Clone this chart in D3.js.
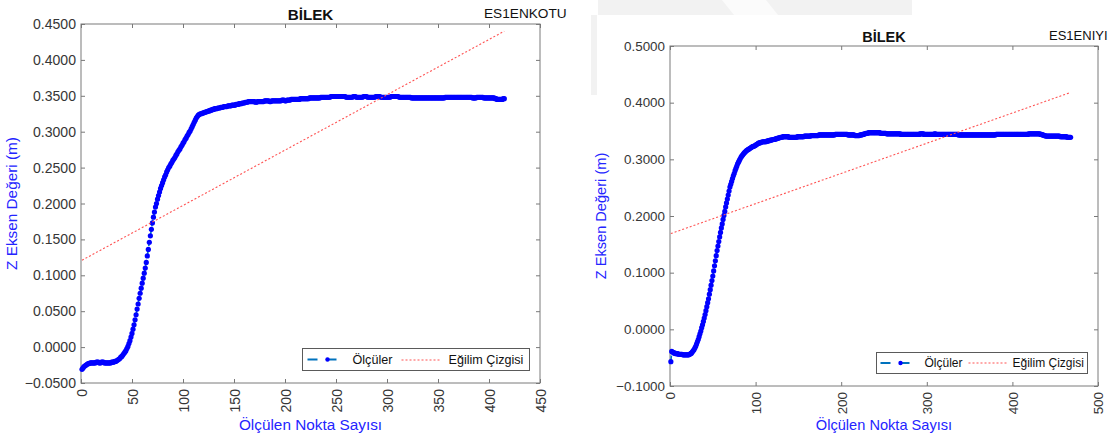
<!DOCTYPE html>
<html>
<head>
<meta charset="utf-8">
<script src="https://cdn.jsdelivr.net/npm/d3@7"></script>
<style>
  body { margin: 0; background: #fff; }
  svg { display: block; }
  text { font-family: "Liberation Sans", Arial, Helvetica, sans-serif; }
</style>
</head>
<body>
<svg id="chart" width="1113" height="437"></svg>
<script>
// ---- Tick values -------------------------------------------------------
const leftXTicks = [0, 50, 100, 150, 200, 250, 300, 350, 400, 450];
const leftYTicks = [-0.05, 0, 0.05, 0.1, 0.15, 0.2, 0.25, 0.3, 0.35, 0.4, 0.45];
const rightXTicks = [0, 100, 200, 300, 400, 500];
const rightYTicks = [-0.1, 0, 0.1, 0.2, 0.3, 0.4, 0.5];

// ---- Labels ------------------------------------------------------------
const titleText = "BİLEK";
const leftTag = "ES1ENKOTU";
const rightTag = "ES1ENIYI";
const xLabel = "Ölçülen Nokta Sayısı";
const yLabel = "Z Eksen Değeri (m)";
const seriesNames = ["Ölçüler", "Eğilim Çizgisi"];

// ---- Measured Z values, one per point (point n is plotted at x = n) ----
const leftZ = [
  -0.031,-0.029,-0.027,-0.026,-0.025,-0.024,-0.023,-0.023,-0.022,-0.022,
  -0.022,-0.022,-0.022,-0.022,-0.021,-0.021,-0.021,-0.022,-0.022,-0.021,
  -0.021,-0.021,-0.022,-0.022,-0.022,-0.022,-0.022,-0.022,-0.022,-0.021,
  -0.021,-0.021,-0.020,-0.020,-0.019,-0.018,-0.017,-0.016,-0.014,-0.013,
  -0.011,-0.009,-0.007,-0.005,-0.002,0.001,0.005,0.009,0.014,0.019,
  0.025,0.031,0.038,0.045,0.053,0.060,0.068,0.075,0.082,0.089,
  0.096,0.103,0.110,0.118,0.127,0.136,0.146,0.155,0.164,0.173,
  0.181,0.188,0.195,0.200,0.206,0.211,0.216,0.221,0.225,0.229,
  0.233,0.237,0.240,0.244,0.247,0.250,0.252,0.255,0.257,0.260,
  0.262,0.264,0.267,0.269,0.272,0.274,0.276,0.279,0.281,0.284,
  0.286,0.289,0.291,0.294,0.296,0.299,0.301,0.304,0.307,0.310,
  0.313,0.316,0.319,0.321,0.323,0.324,0.325,0.325,0.326,0.326,
  0.327,0.327,0.328,0.328,0.329,0.329,0.330,0.330,0.331,0.331,
  0.332,0.332,0.332,0.333,0.333,0.333,0.334,0.334,0.334,0.335,
  0.335,0.335,0.335,0.336,0.336,0.336,0.336,0.337,0.337,0.337,
  0.337,0.338,0.338,0.338,0.339,0.339,0.339,0.340,0.340,0.340,
  0.341,0.341,0.341,0.342,0.342,0.342,0.342,0.342,0.342,0.342,
  0.341,0.341,0.342,0.342,0.342,0.342,0.342,0.342,0.342,0.343,
  0.343,0.343,0.343,0.343,0.342,0.342,0.343,0.343,0.343,0.343,
  0.343,0.343,0.343,0.343,0.343,0.343,0.344,0.344,0.344,0.343,
  0.343,0.344,0.344,0.344,0.344,0.345,0.345,0.345,0.345,0.345,
  0.345,0.345,0.345,0.345,0.346,0.346,0.346,0.346,0.346,0.346,
  0.346,0.346,0.346,0.347,0.347,0.347,0.347,0.347,0.347,0.347,
  0.347,0.347,0.347,0.347,0.348,0.348,0.348,0.348,0.348,0.348,
  0.348,0.348,0.348,0.348,0.349,0.349,0.349,0.349,0.349,0.349,
  0.349,0.349,0.349,0.349,0.349,0.349,0.349,0.349,0.349,0.348,
  0.348,0.348,0.348,0.348,0.348,0.348,0.349,0.349,0.349,0.348,
  0.348,0.348,0.348,0.348,0.348,0.348,0.349,0.349,0.349,0.349,
  0.348,0.348,0.348,0.348,0.348,0.348,0.348,0.348,0.349,0.349,
  0.349,0.349,0.349,0.348,0.348,0.348,0.348,0.348,0.348,0.348,
  0.348,0.348,0.348,0.349,0.349,0.349,0.349,0.349,0.349,0.349,
  0.349,0.348,0.348,0.348,0.348,0.348,0.348,0.348,0.348,0.348,
  0.348,0.348,0.348,0.347,0.347,0.347,0.347,0.347,0.347,0.347,
  0.347,0.347,0.347,0.347,0.347,0.347,0.347,0.347,0.347,0.347,
  0.347,0.347,0.347,0.347,0.347,0.347,0.347,0.347,0.347,0.347,
  0.347,0.347,0.347,0.347,0.347,0.347,0.348,0.348,0.348,0.348,
  0.348,0.348,0.348,0.348,0.348,0.348,0.348,0.348,0.348,0.348,
  0.348,0.348,0.348,0.348,0.348,0.348,0.348,0.348,0.348,0.348,
  0.348,0.348,0.348,0.347,0.347,0.347,0.347,0.348,0.348,0.348,
  0.348,0.348,0.348,0.348,0.347,0.347,0.347,0.347,0.347,0.347,
  0.347,0.347,0.347,0.347,0.347,0.346,0.346,0.345,0.345,0.345,
  0.345,0.345,0.345,0.346,0.346
];

const rightZ = [
  -0.057,-0.039,-0.040,-0.041,-0.042,-0.042,-0.043,-0.043,-0.043,-0.044,
  -0.044,-0.044,-0.044,-0.044,-0.045,-0.045,-0.045,-0.045,-0.045,-0.045,
  -0.045,-0.045,-0.044,-0.043,-0.042,-0.040,-0.038,-0.036,-0.033,-0.030,
  -0.026,-0.022,-0.018,-0.013,-0.008,-0.003,0.003,0.008,0.014,0.020,
  0.026,0.033,0.040,0.047,0.054,0.062,0.070,0.078,0.086,0.094,
  0.103,0.112,0.121,0.130,0.139,0.147,0.155,0.163,0.171,0.179,
  0.186,0.194,0.201,0.208,0.216,0.223,0.230,0.237,0.244,0.251,
  0.256,0.261,0.266,0.271,0.275,0.280,0.284,0.288,0.292,0.295,
  0.298,0.301,0.304,0.306,0.308,0.310,0.312,0.313,0.315,0.316,
  0.317,0.318,0.319,0.320,0.321,0.322,0.323,0.323,0.324,0.325,
  0.326,0.327,0.328,0.329,0.329,0.330,0.330,0.331,0.331,0.331,
  0.331,0.331,0.332,0.332,0.333,0.333,0.334,0.334,0.334,0.335,
  0.335,0.335,0.336,0.336,0.337,0.337,0.338,0.338,0.339,0.339,
  0.339,0.340,0.340,0.340,0.340,0.340,0.340,0.340,0.339,0.339,
  0.339,0.339,0.339,0.339,0.339,0.339,0.339,0.339,0.340,0.340,
  0.340,0.340,0.340,0.340,0.340,0.340,0.341,0.341,0.341,0.341,
  0.341,0.341,0.341,0.341,0.342,0.342,0.342,0.342,0.342,0.342,
  0.342,0.342,0.342,0.343,0.343,0.343,0.343,0.343,0.343,0.343,
  0.343,0.343,0.343,0.343,0.343,0.343,0.343,0.343,0.343,0.343,
  0.343,0.343,0.344,0.344,0.344,0.344,0.344,0.344,0.344,0.344,
  0.344,0.344,0.344,0.344,0.344,0.344,0.344,0.343,0.343,0.343,
  0.343,0.343,0.343,0.343,0.343,0.342,0.342,0.342,0.342,0.342,
  0.342,0.343,0.343,0.343,0.344,0.344,0.345,0.345,0.346,0.346,
  0.346,0.347,0.347,0.347,0.347,0.347,0.347,0.347,0.347,0.347,
  0.347,0.347,0.347,0.347,0.347,0.346,0.346,0.346,0.346,0.346,
  0.346,0.346,0.345,0.345,0.345,0.345,0.345,0.345,0.345,0.345,
  0.345,0.345,0.345,0.345,0.345,0.345,0.345,0.345,0.345,0.344,
  0.344,0.344,0.344,0.344,0.344,0.344,0.344,0.344,0.344,0.344,
  0.344,0.344,0.344,0.344,0.344,0.344,0.344,0.344,0.344,0.344,
  0.344,0.345,0.345,0.345,0.345,0.345,0.344,0.344,0.344,0.344,
  0.344,0.344,0.344,0.344,0.344,0.344,0.344,0.344,0.345,0.345,
  0.344,0.344,0.344,0.344,0.344,0.344,0.344,0.344,0.344,0.344,
  0.344,0.344,0.344,0.344,0.344,0.344,0.344,0.344,0.344,0.344,
  0.344,0.344,0.344,0.344,0.344,0.344,0.343,0.343,0.343,0.343,
  0.343,0.343,0.343,0.343,0.343,0.343,0.343,0.343,0.343,0.343,
  0.343,0.343,0.343,0.343,0.343,0.343,0.343,0.343,0.343,0.343,
  0.343,0.343,0.343,0.343,0.343,0.343,0.343,0.343,0.343,0.343,
  0.343,0.343,0.343,0.343,0.343,0.343,0.343,0.343,0.343,0.343,
  0.344,0.344,0.344,0.344,0.344,0.344,0.344,0.344,0.344,0.344,
  0.344,0.344,0.344,0.344,0.344,0.344,0.344,0.344,0.344,0.344,
  0.344,0.344,0.344,0.344,0.344,0.344,0.344,0.344,0.344,0.344,
  0.344,0.344,0.344,0.344,0.344,0.344,0.344,0.344,0.345,0.345,
  0.345,0.345,0.345,0.345,0.345,0.345,0.345,0.345,0.345,0.345,
  0.345,0.345,0.344,0.344,0.343,0.343,0.342,0.342,0.341,0.341,
  0.341,0.341,0.341,0.341,0.341,0.341,0.341,0.341,0.341,0.341,
  0.341,0.341,0.341,0.341,0.341,0.340,0.340,0.340,0.340,0.340,
  0.340,0.340,0.340,0.339,0.339,0.339,0.339,0.339
];

// ---- Trend (linear fit) end points --------------------------------------
const leftTrendX = [1, 415];
const leftTrendZ = [0.121, 0.440];
const rightTrendX = [1, 468];
const rightTrendZ = [0.169, 0.418];

// ---------------------------------------------------------------------------
const svg = d3.select("#chart");
const FONT = '"Liberation Sans", Arial, Helvetica, sans-serif';
const BLUE_TEXT = "#2424ff";
const AXIS_GRAY = "#7a7a7a";
const TICK_TEXT = "#363636";
const TREND_RED = "#ff5252";

// faint page watermark behind the figures
const wm = svg.append("g").attr("fill", "#f2f2f2");
wm.append("path").attr("d", "M598,0 L912,0 L912,15 L598,15 Z");
wm.append("path").attr("d", "M722,0 L766,0 L778,15 L734,15 Z").attr("fill", "#fbfbfb");
wm.append("rect").attr("x", 591).attr("y", 15).attr("width", 6).attr("height", 80);

function drawPanel(cfg) {
  const s = cfg.fontScale;
  const x = d3.scaleLinear().domain(cfg.xDomain).range([cfg.left, cfg.right]);
  const y = d3.scaleLinear().domain(cfg.yDomain).range([cfg.bottom, cfg.top]);
  const g = svg.append("g");
  const fmt = d3.format(".4f");

  // axes: inward ticks on all four sides
  const ax = (gen, tx, ty) => {
    const a = g.append("g").attr("transform", `translate(${tx},${ty})`).call(gen);
    a.select(".domain").remove();
    a.selectAll(".tick line").attr("stroke", "#555").attr("stroke-width", 0.8);
    a.attr("font-family", FONT).attr("font-size", 13.4 * s);
    a.selectAll("text").attr("fill", TICK_TEXT);
    return a;
  };
  ax(d3.axisLeft(y).tickValues(cfg.yTicks).tickFormat(fmt).tickSizeInner(-4).tickSizeOuter(0).tickPadding(5), cfg.left, 0);
  ax(d3.axisRight(y).tickValues(cfg.yTicks).tickFormat("").tickSizeInner(-4).tickSizeOuter(0), cfg.right, 0);
  ax(d3.axisTop(x).tickValues(cfg.xTicks).tickFormat("").tickSizeInner(-4).tickSizeOuter(0), 0, cfg.top);
  const bx = ax(d3.axisBottom(x).tickValues(cfg.xTicks).tickFormat(d3.format("d")).tickSizeInner(-4).tickSizeOuter(0), 0, cfg.bottom);
  bx.selectAll("text")
    .attr("x", -6).attr("y", 0).attr("dy", "0.36em")
    .attr("transform", "rotate(-90)")
    .style("text-anchor", "end");

  // frame
  g.append("rect")
    .attr("x", cfg.left).attr("y", cfg.top)
    .attr("width", cfg.right - cfg.left).attr("height", cfg.bottom - cfg.top)
    .attr("fill", "none").attr("stroke", AXIS_GRAY).attr("stroke-width", 1);

  // measured series: dashed line with dot markers
  const pts = cfg.z.map((v, i) => [i + 1, v]);
  g.append("path")
    .datum(pts)
    .attr("d", d3.line().x(d => x(d[0])).y(d => y(d[1])))
    .attr("fill", "none").attr("stroke", "#0072bd")
    .attr("stroke-width", 1.6).attr("stroke-dasharray", "6,4");
  g.append("g").selectAll("circle")
    .data(pts).join("circle")
    .attr("cx", d => x(d[0])).attr("cy", d => y(d[1]))
    .attr("r", 2.6).attr("fill", "#0000ff");

  // trend line
  g.append("path")
    .datum(cfg.trendX.map((v, i) => [v, cfg.trendZ[i]]))
    .attr("d", d3.line().x(d => x(d[0])).y(d => y(d[1])))
    .attr("fill", "none").attr("stroke", TREND_RED)
    .attr("stroke-width", 1.1).attr("stroke-dasharray", "2,2");

  // titles and labels
  const cx = (cfg.left + cfg.right) / 2;
  g.append("text").attr("x", cx).attr("y", cfg.top - 4)
    .attr("text-anchor", "middle").attr("font-size", 14.5 * s).attr("font-weight", "bold")
    .attr("fill", "#111").text(titleText);
  g.append("text").attr("x", cfg.right + cfg.tagDx).attr("y", cfg.top - 6)
    .attr("font-size", 13 * s).attr("fill", "#111").text(cfg.tag);
  g.append("text").attr("x", cx).attr("y", 430)
    .attr("text-anchor", "middle").attr("font-size", 14.6 * s)
    .attr("fill", BLUE_TEXT).text(xLabel);
  g.append("text")
    .attr("transform", `translate(${cfg.left - 64},${(cfg.top + cfg.bottom) / 2}) rotate(-90)`)
    .attr("text-anchor", "middle").attr("font-size", 14.6 * s)
    .attr("fill", BLUE_TEXT).text(yLabel);

  // legend
  const L = cfg.legend;
  const lg = g.append("g").attr("transform", `translate(${L.x},${L.y})`);
  lg.append("rect").attr("width", L.w).attr("height", L.h)
    .attr("fill", "#fff").attr("stroke", "#5a5a5a").attr("stroke-width", 1);
  const my = L.h / 2;
  const redY = Math.round(L.y + my) - L.y;   // soft, two-row dotted sample
  lg.append("line").attr("x1", L.s0).attr("x2", L.s1).attr("y1", my).attr("y2", my)
    .attr("stroke", "#0072bd").attr("stroke-width", 2.2).attr("stroke-dasharray", "10,9");
  lg.append("circle").attr("cx", L.dot).attr("cy", my).attr("r", 2.2).attr("fill", "#0000ff");
  lg.append("text").attr("x", L.t0).attr("y", my).attr("dy", "0.36em")
    .attr("font-size", 12 * s).attr("fill", "#111").text(seriesNames[0]);
  lg.append("path")
    .attr("d", `M${L.r0},${redY}H${L.r1}`)
    .attr("stroke", TREND_RED).attr("stroke-width", 1.1).attr("stroke-dasharray", "2,2");
  lg.append("text").attr("x", L.t1).attr("y", my).attr("dy", "0.36em")
    .attr("font-size", 12 * s).attr("fill", "#111").text(seriesNames[1]);
}

drawPanel({
  left: 81, right: 540, top: 24, bottom: 383, fontScale: 1.05, tagDx: -56,
  xDomain: [0, 450], yDomain: [-0.05, 0.45],
  xTicks: leftXTicks, yTicks: leftYTicks,
  z: leftZ, trendX: leftTrendX, trendZ: leftTrendZ, tag: leftTag,
  legend: { x: 302.5, y: 348.5, w: 227, h: 22, s0: 5, s1: 35, dot: 25, t0: 50, r0: 99, r1: 139, t1: 146 }
});

drawPanel({
  left: 670, right: 1098, top: 46, bottom: 386, fontScale: 1, tagDx: -49,
  xDomain: [0, 500], yDomain: [-0.1, 0.5],
  xTicks: rightXTicks, yTicks: rightYTicks,
  z: rightZ, trendX: rightTrendX, trendZ: rightTrendZ, tag: rightTag,
  legend: { x: 876.5, y: 352.5, w: 211, h: 21, s0: 4, s1: 34, dot: 24, t0: 48, r0: 92, r1: 131, t1: 136 }
});
</script>
</body>
</html>
